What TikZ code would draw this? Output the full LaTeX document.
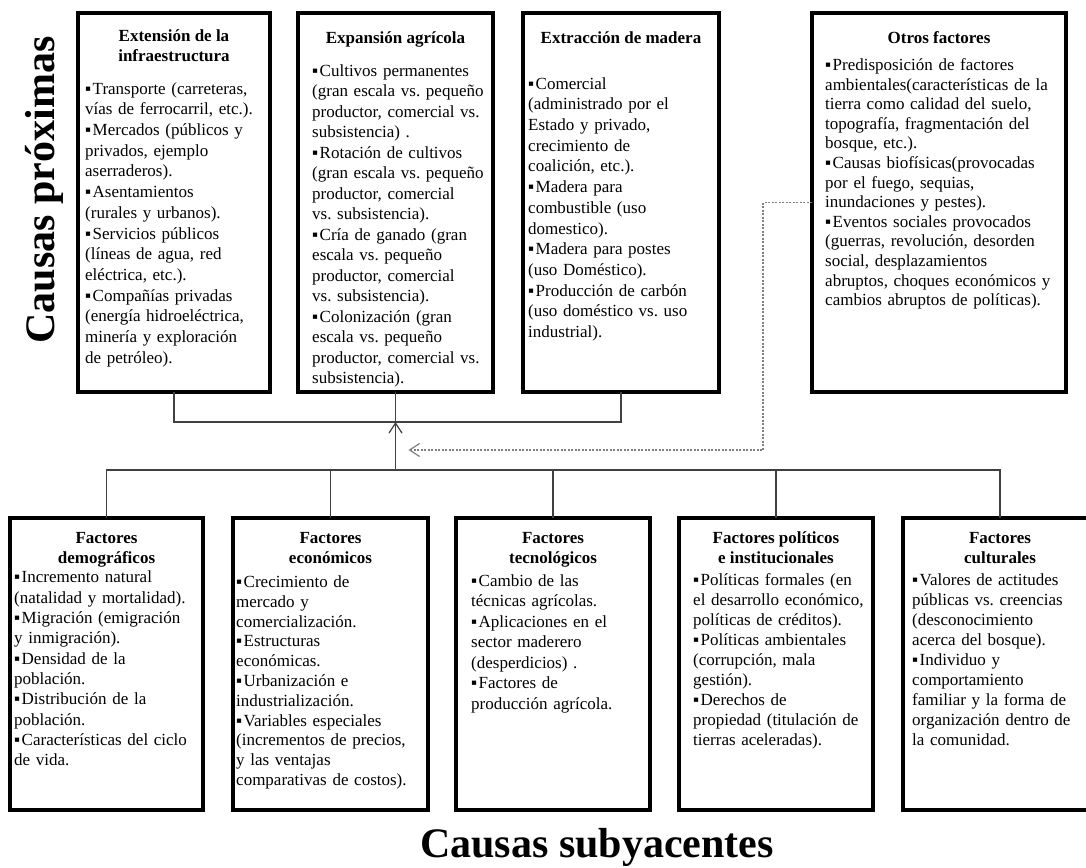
\documentclass[tikz,border=0pt]{standalone}
\usepackage{fontspec}
\setmainfont{Liberation Serif}
\usetikzlibrary{arrows.meta,calc}
\newcommand\bul{▪\hspace{1.5pt}}
\frenchspacing
\begin{document}
\begin{tikzpicture}[x=1pt,y=-1pt,
  boxframe/.style={draw=black,line width=3.5pt,inner sep=0pt,outer sep=0pt,anchor=north west,fill=white},
  topframe/.style={boxframe,minimum height=379pt},
  botframe/.style={boxframe,minimum height=292pt},
  ttl/.style={anchor=north,inner sep=0pt,align=center,font=\fontsize{17}{20.5}\selectfont\bfseries\frenchspacing},
  bdy/.style={anchor=north west,inner sep=0pt,text width=250pt,align=left,font=\fontsize{17}{#1}\selectfont\frenchspacing},
  conn/.style={draw=black!75,line width=1.2pt},
  dconn/.style={draw=black!50,line width=1.2pt,dash pattern=on 2pt off 1.5pt},
  arrtip/.style={-{Straight Barb[length=10pt,width=13pt]}},
  bigtitle/.style={font=\fontsize{42}{48}\selectfont\bfseries,inner sep=0pt}]
\useasboundingbox (0,0) rectangle (1086,867);
\clip (0,0) rectangle (1086,867);
\fill[white] (0,0) rectangle (1086,867);

% top frames
\node[topframe,minimum width=192pt] (B1) at (78,13) {};
\node[topframe,minimum width=195pt] (B2) at (298,13) {};
\node[topframe,minimum width=196pt] (B3) at (523,13) {};
\node[topframe,minimum width=254pt] (B4) at (812,13) {};
% bottom frames
\node[botframe,minimum width=193pt] (C1) at (10,518) {};
\node[botframe,minimum width=195pt] (C2) at (233,518) {};
\node[botframe,minimum width=194pt] (C3) at (456,518) {};
\node[botframe,minimum width=194pt] (C4) at (679,518) {};
\node[botframe,minimum width=194pt] (C5) at (903,518) {};

% titles
\node[ttl] (B1h) at (174,26.5) {\strut Extensión de la\\infraestructura};
\node[ttl] (B2h) at (395.5,28.5) {\strut Expansión agrícola};
\node[ttl] (B3h) at (621,28.5) {\strut Extracción de madera};
\node[ttl] (B4h) at (939,28.5) {\strut Otros factores};
\node[ttl] (C1h) at (106.5,528.5) {\strut Factores\\demográficos};
\node[ttl] (C2h) at (330.5,528.5) {\strut Factores\\económicos};
\node[ttl] (C3h) at (553,528.5) {\strut Factores\\tecnológicos};
\node[ttl] (C4h) at (776,528.5) {\strut Factores políticos\\e institucionales};
\node[ttl] (C5h) at (1000,528.5) {\strut Factores\\culturales};

% bodies
\node[bdy=20.7] (B1b) at (85,79.5) {\strut\bul Transporte (carreteras,\\vías de ferrocarril, etc.).\\\bul Mercados (públicos y\\privados, ejemplo\\aserraderos).\\\bul Asentamientos\\(rurales y urbanos).\\\bul Servicios públicos\\(líneas de agua, red\\eléctrica, etc.).\\\bul Compañías privadas\\(energía hidroeléctrica,\\minería y exploración\\de petróleo).};
\node[bdy=20.5] (B2b) at (312,61.5) {\strut\bul Cultivos permanentes\\(gran escala vs. pequeño\\productor, comercial vs.\\subsistencia) .\\\bul Rotación de cultivos\\(gran escala vs. pequeño\\productor, comercial\\vs. subsistencia).\\\bul Cría de ganado (gran\\escala vs. pequeño\\productor, comercial\\vs. subsistencia).\\\bul Colonización (gran\\escala vs. pequeño\\productor, comercial vs.\\subsistencia).};
\node[bdy=20.7] (B3b) at (528,74.5) {\strut\bul Comercial\\(administrado por el\\Estado y privado,\\crecimiento de\\coalición, etc.).\\\bul Madera para\\combustible (uso\\domestico).\\\bul Madera para postes\\(uso Doméstico).\\\bul Producción de carbón\\(uso doméstico vs. uso\\industrial).};
\node[bdy=19.6] (B4b) at (825,56.5) {\strut\bul Predisposición de factores\\ambientales(características de la\\tierra como calidad del suelo,\\topografía, fragmentación del\\bosque, etc.).\\\bul Causas biofísicas(provocadas\\por el fuego, sequias,\\inundaciones y pestes).\\\bul Eventos sociales provocados\\(guerras, revolución, desorden\\social, desplazamientos\\abruptos, choques económicos y\\cambios abruptos de políticas).};
\node[bdy=20.3] (C1b) at (14,568.5) {\strut\bul Incremento natural\\(natalidad y mortalidad).\\\bul Migración (emigración\\y inmigración).\\\bul Densidad de la\\población.\\\bul Distribución de la\\población.\\\bul Características del ciclo\\de vida.};
\node[bdy=19.8] (C2b) at (236,573.5) {\strut\bul Crecimiento de\\mercado y\\comercialización.\\\bul Estructuras\\económicas.\\\bul Urbanización e\\industrialización.\\\bul Variables especiales\\(incrementos de precios,\\y las ventajas\\comparativas de costos).};
\node[bdy=20.5] (C3b) at (471,571.5) {\strut\bul Cambio de las\\técnicas agrícolas.\\\bul Aplicaciones en el\\sector maderero\\(desperdicios) .\\\bul Factores de\\producción agrícola.};
\node[bdy=20] (C4b) at (693,571.5) {\strut\bul Políticas formales (en\\el desarrollo económico,\\políticas de créditos).\\\bul Políticas ambientales\\(corrupción, mala\\gestión).\\\bul Derechos de\\propiedad (titulación de\\tierras aceleradas).};
\node[bdy=20] (C5b) at (912,571.5) {\strut\bul Valores de actitudes\\públicas vs. creencias\\(desconocimiento\\acerca del bosque).\\\bul Individuo y\\comportamiento\\familiar y la forma de\\organización dentro de\\la comunidad.};

% big labels
\node[bigtitle,rotate=90,anchor=base] (P) at (54,190) {Causas próximas};
\node[bigtitle,anchor=base] (S) at (597,857) {Causas subyacentes};

% connectors
\coordinate (J) at ($(B2.south)+(0,30)$);
\coordinate (K) at ($(B2.south)+(0,78)$);
\coordinate (Dt) at ($(K)+(13,-20)$);
\coordinate (Dc) at (763,450);
\draw[conn] (B1.south) |- (J) -| (B3.south);
\draw[conn] (B2.south) -- (J);
\draw[conn,arrtip] (K) -- (J);
\draw[conn] (C1.north) |- (K) -| (C5.north);
\foreach \n in {C2,C3,C4} \draw[conn] (\n.north) -- (\n.north |- K);
\draw[dconn,arrtip] (B4.west) -| (Dc) -- (Dt);
\end{tikzpicture}
\end{document}
